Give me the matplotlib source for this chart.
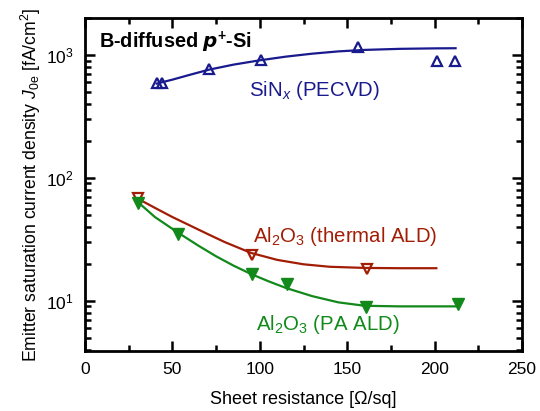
import numpy as np
import matplotlib
matplotlib.use('Agg')
import matplotlib.pyplot as plt
from matplotlib.ticker import LogLocator, MultipleLocator, NullFormatter

plt.rcParams['font.family'] = ['Liberation Sans', 'DejaVu Sans']
plt.rcParams['mathtext.fontset'] = 'custom'
plt.rcParams['mathtext.rm'] = 'Liberation Sans'
plt.rcParams['mathtext.it'] = 'Liberation Sans:italic'
plt.rcParams['mathtext.bf'] = 'Liberation Sans:bold'

# measured data (sheet resistance [Ohm/sq], J0e [fA/cm2])
sin_x = [41.0, 43.9, 71.1, 100.7, 156.0, 201.1, 211.7]
sin_y = [589, 589, 766, 911, 1155, 894, 894]
th_x = [30.5, 95.4, 161.1]
th_y = [68.4, 23.7, 18.1]
pa_x = [30.5, 53.4, 95.4, 115.7, 160.8, 213.2]
pa_y = [62.3, 34.9, 16.6, 13.7, 8.83, 9.4]

# fit curves
sin_fit_x = [41, 50, 60, 71, 85, 100, 115, 130, 145, 160, 180, 200, 212]
sin_fit_y = [585, 630, 690, 760, 835, 905, 970, 1025, 1070, 1100, 1122, 1132, 1135]
th_fit_x = [30, 40, 50, 60, 70, 80, 95, 110, 125, 140, 160, 180, 201]
th_fit_y = [68, 57, 48, 41, 35, 30, 24.5, 21.5, 19.8, 18.9, 18.5, 18.4, 18.4]
pa_fit_x = [30, 40, 53, 65, 75, 85, 95, 105, 115, 130, 145, 160, 180, 213]
pa_fit_y = [64, 48, 36, 28, 23, 19.3, 16.5, 14.4, 12.7, 10.9, 9.7, 9.1, 9.0, 9.0]

blue = '#1a1a8f'
red = '#a21d05'
green = '#12891a'

fig = plt.figure(figsize=(5.4, 4.11), dpi=100)
ax = fig.add_axes([85 / 540, 60 / 411, 437 / 540, 333 / 411])

ax.plot(sin_fit_x, sin_fit_y, color=blue, lw=1.6)
ax.plot(sin_x, sin_y, ls='none', marker='^', ms=7.5, mfc='none', mec=blue, mew=1.6)
ax.plot(th_fit_x, th_fit_y, color=red, lw=1.6)
ax.plot(th_x, th_y, ls='none', marker='v', ms=7.5, mfc='none', mec=red, mew=1.6)
ax.plot(pa_fit_x, pa_fit_y, color=green, lw=1.6)
ax.plot(pa_x, pa_y, ls='none', marker='v', ms=8.5, color=green)

ax.set_yscale('log')
ax.set_xlim(0, 250)
ax.set_ylim(3.9, 2000)
ax.xaxis.set_major_locator(MultipleLocator(50))
ax.xaxis.set_minor_locator(MultipleLocator(25))
ax.yaxis.set_major_locator(LogLocator(base=10, numticks=10))
ax.yaxis.set_minor_locator(LogLocator(base=10, subs=np.arange(2, 10), numticks=20))
ax.yaxis.set_minor_formatter(NullFormatter())

ax.tick_params(which='both', direction='in', top=True, right=True, width=1.8,
               labelsize=12.5, pad=8, colors='black')
ax.tick_params(which='major', length=7)
ax.tick_params(which='minor', length=4)
for s in ax.spines.values():
    s.set_linewidth(2)

ax.set_xlabel('Sheet resistance [\u03a9/sq]', fontsize=13, labelpad=10)
ax.set_ylabel('Emitter saturation current density $\\mathit{J}_{\\mathrm{0e}}$ [fA/cm$^2$]',
              fontsize=12.7, labelpad=2)

ax.text(8, 1270, 'B-diffused $\\boldsymbol{p}^{\\mathbf{+}}$-Si', fontsize=14.3,
        fontweight='bold', va='center', ha='left')
ax.text(131, 514, 'SiN$_{\\mathit{x}}$ (PECVD)', fontsize=14.7, color=blue, ha='center', va='center')
ax.text(149, 33.6, 'Al$_2$O$_3$ (thermal ALD)', fontsize=14.7, color=red, ha='center', va='center')
ax.text(139, 6.36, 'Al$_2$O$_3$ (PA ALD)', fontsize=14.7, color=green, ha='center', va='center')

fig.savefig('out.png', dpi=100)
